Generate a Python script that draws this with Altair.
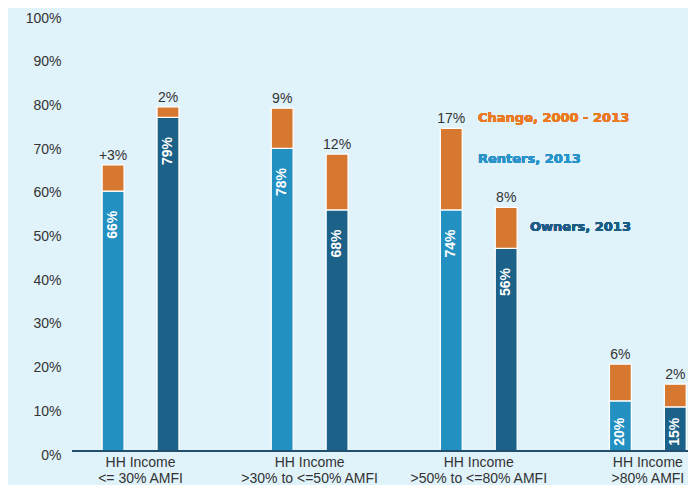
import altair as alt
import pandas as pd

# ---- data ----
groups = ["HH Income|<= 30% AMFI", "HH Income|>30% to <=50% AMFI",
          "HH Income|>50% to <=80% AMFI", "HH Income|>80% AMFI"]
tenures = ["Renters", "Owners"]

renters_2013 = [59.5, 69.3, 55.2, 11.5]      # blue segment height
renters_change = [6.0, 9.2, 18.7, 8.4]       # orange segment height
owners_2013 = [76.4, 55.2, 46.4, 10.1]
owners_change = [2.4, 12.8, 9.4, 5.2]

renters_labels = ["66%", "78%", "74%", "20%"]
renters_change_labels = ["+3%", "9%", "17%", "6%"]
owners_labels = ["79%", "68%", "56%", "15%"]
owners_change_labels = ["2%", "12%", "8%", "2%"]

y_ticks = [0, 10, 20, 30, 40, 50, 60, 70, 80, 90, 100]

series_names = ["Renters, 2013", "Owners, 2013", "Change, 2000 - 2013"]
series_colors = ["#2390c2", "#1c6188", "#d67830"]

# ---- tables ----
bar_rows = []
lab_rows = []
for i, g in enumerate(groups):
    for t, base, chg, lab, clab, sname in [
        ("Renters", renters_2013[i], renters_change[i], renters_labels[i], renters_change_labels[i], "Renters, 2013"),
        ("Owners", owners_2013[i], owners_change[i], owners_labels[i], owners_change_labels[i], "Owners, 2013"),
    ]:
        bar_rows.append(dict(group=g, tenure=t, series=sname, lo=0.0, hi=base))
        bar_rows.append(dict(group=g, tenure=t, series="Change, 2000 - 2013", lo=base, hi=base + chg))
        lab_rows.append(dict(group=g, tenure=t, base=base, total=base + chg, inner=lab, top=clab))

bars_df = pd.DataFrame(bar_rows)
labs_df = pd.DataFrame(lab_rows)

FONT = "Liberation Sans"
W, H = 616, 436.7

x_enc = alt.X("group:N", sort=groups,
              scale=alt.Scale(range=[-16, 660.4], paddingInner=0, paddingOuter=0),
              axis=alt.Axis(title=None, domain=False, ticks=False, labelAngle=0,
                            labelExpr="split(datum.label, '|')",
                            labelFontSize=14, labelColor="#333333", labelFont=FONT,
                            labelPadding=4, labelLineHeight=16))
xo_enc = alt.XOffset("tenure:N", sort=tenures,
                     scale=alt.Scale(paddingInner=0.6, paddingOuter=0.84))
y_scale = alt.Scale(domain=[0, 100], nice=False)

bars = alt.Chart(bars_df).mark_bar(stroke="white", strokeWidth=1.3).encode(
    x=x_enc,
    xOffset=xo_enc,
    y=alt.Y("lo:Q", scale=y_scale,
            axis=alt.Axis(title=None, values=y_ticks, grid=False, domain=False, ticks=False,
                          labelExpr="datum.value + '%'", labelFontSize=14,
                          labelColor="#333333", labelFont=FONT, labelPadding=11,
                          labelOffset=4)),
    y2="hi:Q",
    color=alt.Color("series:N", scale=alt.Scale(domain=series_names, range=series_colors),
                    legend=None),
)

top_text = alt.Chart(labs_df).mark_text(
    fontSize=14, font=FONT, color="#333333", baseline="alphabetic", dy=-5
).encode(x=x_enc, xOffset=xo_enc, y=alt.Y("total:Q", scale=y_scale), text="top:N")

inner_text = alt.Chart(labs_df).transform_calculate(
    ly="max(datum.base - 4.5, 7.6)"
).mark_text(
    fontSize=14, font=FONT, fontWeight="bold", color="white", angle=270,
    align="right", baseline="middle"
).encode(x=x_enc, xOffset=xo_enc, y=alt.Y("ly:Q", scale=y_scale), text="inner:N")

axis_line = alt.Chart(labs_df).mark_rule(color="#21506f", strokeWidth=2).encode(
    x=alt.value(0), x2=alt.value(W), y=alt.datum(0, scale=y_scale)
)

LEG_FONT = "DejaVu Sans"
legend_change = alt.Chart(labs_df).mark_text(
    text="Change, 2000 - 2013", fontSize=13, font=LEG_FONT, fontWeight="bold",
    color="#ec7a25", align="left", baseline="middle"
).encode(x=alt.value(406), y=alt.value(103.4))
legend_renters = alt.Chart(labs_df).mark_text(
    text="Renters, 2013", fontSize=13, font=LEG_FONT, fontWeight="bold",
    color="#2a93c9", align="left", baseline="middle"
).encode(x=alt.value(406), y=alt.value(144.7))
legend_owners = alt.Chart(labs_df).mark_text(
    text="Owners, 2013", fontSize=13, font=LEG_FONT, fontWeight="bold",
    color="#1d5c85", align="left", baseline="middle"
).encode(x=alt.value(458), y=alt.value(212.4))

chart = alt.layer(
    bars, axis_line, top_text, inner_text, legend_change, legend_renters, legend_owners
).properties(
    width=W, height=H,
    autosize=alt.AutoSizeParams(type="none"),
    padding={"left": 64, "top": 6.3, "right": 0, "bottom": 34},
    background="#e0f2fa",
).configure_view(stroke=None)

chart.save("out.html", embed_options={"renderer": "svg", "actions": False})
